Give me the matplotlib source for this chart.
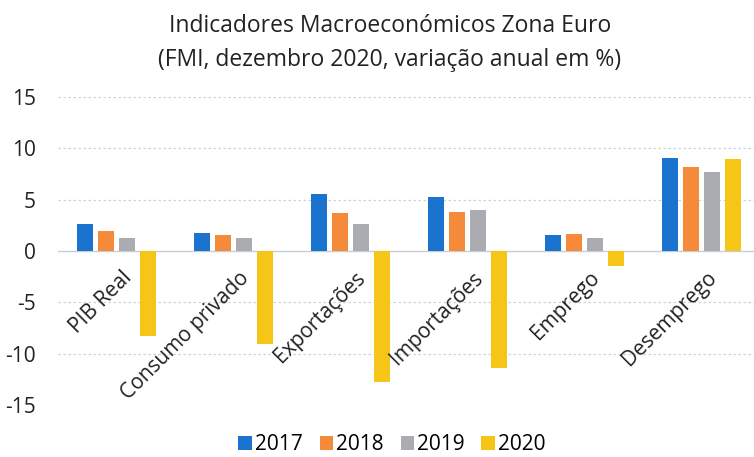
import matplotlib
matplotlib.use("Agg")
import matplotlib.pyplot as plt
import numpy as np

categories = ["PIB Real", "Consumo privado", "Exportações", "Importações", "Emprego", "Desemprego"]
years = ["2017", "2018", "2019", "2020"]
v2017 = [2.6, 1.8, 5.6, 5.3, 1.6, 9.1]
v2018 = [1.9, 1.6, 3.7, 3.8, 1.7, 8.2]
v2019 = [1.3, 1.3, 2.6, 4.0, 1.3, 7.7]
v2020 = [-8.3, -9.1, -12.8, -11.4, -1.5, 9.0]
series = [v2017, v2018, v2019, v2020]
colors = ["#1a73cf", "#f48a3a", "#ababb2", "#f5c518"]
yticks = [-15, -10, -5, 0, 5, 10, 15]

plt.rcParams['font.family'] = ['Open Sans', 'DejaVu Sans']

W, H = 754, 457
fig = plt.figure(figsize=(W / 100, H / 100), dpi=100)
left, right = 58, 754
bottom, top = 405, 97
ax = fig.add_axes([left / W, 1 - bottom / H, (right - left) / W, (bottom - top) / H])

x = np.arange(len(categories))
step = 0.181
width = 0.138
for i, (vals, c, yr) in enumerate(zip(series, colors, years)):
    ax.bar(x + (i - 1.5) * step, vals, width=width, color=c, label=yr, zorder=3)

ax.set_xlim(-0.5, -0.5 + (right - left) / 117.0)
ax.set_ylim(-15, 15)
ax.set_yticks(yticks)
ax.set_yticklabels([str(t) for t in yticks], fontsize=15, color="#222222")
ax.tick_params(axis='y', length=0, pad=16)
ax.set_xticks([])
for s in ax.spines.values():
    s.set_visible(False)
for t in yticks:
    if t == 0:
        ax.axhline(0, color="#c8ccd4", lw=1.0, zorder=2)
    else:
        ax.axhline(t, color="#cdd3de", lw=0.9, ls=(0, (2, 2)), zorder=1)

for i, cat in enumerate(categories):
    ax.text(x[i] + 0.04, -1.6, cat, rotation=45, ha='right', va='top', rotation_mode='anchor',
            fontsize=15, color="#222222", zorder=4)

fig.text(0.517, 1 - 26 / H, "Indicadores Macroeconómicos Zona Euro", ha='center', va='center',
         fontsize=16.5, color="#222222")
fig.text(0.517, 1 - 60 / H, "(FMI, dezembro 2020, variação anual em %)", ha='center', va='center',
         fontsize=16.5, color="#222222")

leg = fig.legend(loc='center', bbox_to_anchor=(0.52, 1 - 445 / H), ncol=4, frameon=False,
                 fontsize=15, handlelength=0.65, handleheight=0.65, handletextpad=0.15,
                 columnspacing=0.8)

fig.savefig("out.png", dpi=100)
